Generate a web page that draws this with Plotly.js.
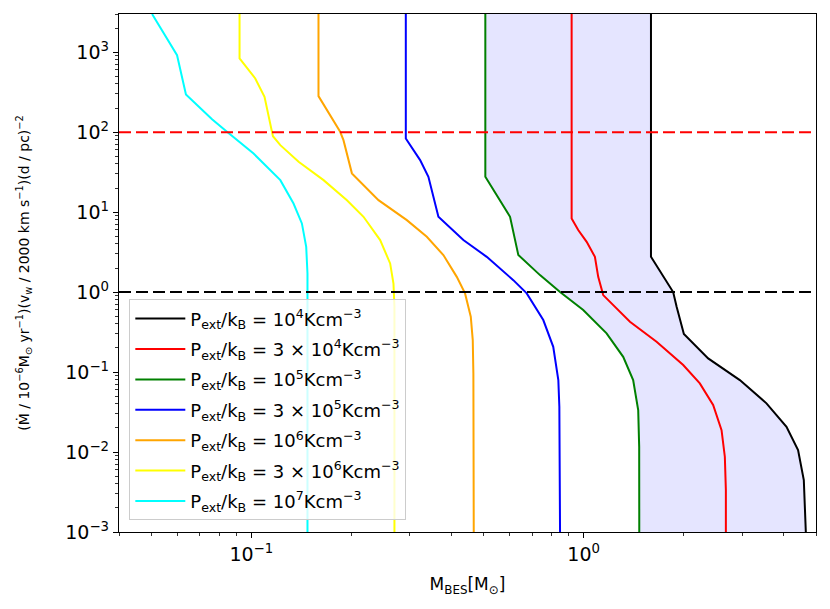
<!DOCTYPE html>
<html>
<head>
<meta charset="utf-8">
<script src="https://cdn.plot.ly/plotly-3.0.1.min.js"></script>
<style>body{margin:0;padding:0;background:#fff;}#chart{width:830px;height:609px;}</style>
</head>
<body>
<div id="chart"></div>
<script>
// ---- Data ----
const seriesNames = [
  "P<sub>ext</sub>/k<sub>B</sub> = 10<sup>4</sup>Kcm<sup>−3</sup>",
  "P<sub>ext</sub>/k<sub>B</sub> = 3 × 10<sup>4</sup>Kcm<sup>−3</sup>",
  "P<sub>ext</sub>/k<sub>B</sub> = 10<sup>5</sup>Kcm<sup>−3</sup>",
  "P<sub>ext</sub>/k<sub>B</sub> = 3 × 10<sup>5</sup>Kcm<sup>−3</sup>",
  "P<sub>ext</sub>/k<sub>B</sub> = 10<sup>6</sup>Kcm<sup>−3</sup>",
  "P<sub>ext</sub>/k<sub>B</sub> = 3 × 10<sup>6</sup>Kcm<sup>−3</sup>",
  "P<sub>ext</sub>/k<sub>B</sub> = 10<sup>7</sup>Kcm<sup>−3</sup>"
];
const seriesColors = ["#000000", "#ff0000", "#008000", "#0000ff", "#ffa500", "#ffff00", "#00ffff"];

const blackX  = [1.594, 1.594, 1.859, 1.904, 2.002, 2.369, 2.950, 3.548, 4.076, 4.416, 4.595, 4.658, 4.66];
const blackY  = [3000, 2.76, 1.0, 0.655, 0.2985, 0.148, 0.0794, 0.0406, 0.0207, 0.0106, 0.00447, 0.00155, 0.001];
const redX    = [0.92, 0.92, 0.963, 1.021, 1.081, 1.106, 1.145, 1.378, 1.657, 1.993, 2.236, 2.452, 2.599, 2.659, 2.678, 2.678];
const redY    = [3000, 8.34, 5.96, 4.25, 2.76, 1.55, 0.917, 0.425, 0.239, 0.1224, 0.0722, 0.0387, 0.0188, 0.00873, 0.00335, 0.001];
const greenX  = [0.506, 0.506, 0.6005, 0.636, 0.739, 0.849, 0.997, 1.172, 1.315, 1.409, 1.459, 1.469, 1.47];
const greenY  = [3000, 27.6, 8.74, 2.90, 1.63, 1.0, 0.596, 0.305, 0.155, 0.0794, 0.0335, 0.0116, 0.001];
const blueX   = [0.2917, 0.2917, 0.3221, 0.3411, 0.3656, 0.4346, 0.511, 0.6143, 0.6741, 0.756, 0.810, 0.839, 0.845, 0.849];
const blueY   = [3000, 83.4, 44.7, 27.6, 8.74, 4.47, 2.76, 1.41, 0.963, 0.447, 0.207, 0.0794, 0.0368, 0.001];
const orangeX = [0.1593, 0.1593, 0.1851, 0.1894, 0.2008, 0.2414, 0.2938, 0.3374, 0.3784, 0.4152, 0.4397, 0.4575, 0.4638, 0.4658, 0.467];
const orangeY = [3000, 282, 101, 79.4, 30.5, 14.1, 7.94, 4.91, 2.90, 1.55, 0.963, 0.491, 0.251, 0.0963, 0.001];
const yellowX = [0.0922, 0.0922, 0.1028, 0.1096, 0.1154, 0.1162, 0.1223, 0.1388, 0.165, 0.194, 0.2176, 0.2442, 0.2617, 0.2678, 0.2696, 0.2696];
const yellowY = [3000, 834, 469, 276, 101, 89, 68.8, 42.5, 25.1, 14.1, 8.74, 4.47, 2.28, 1.28, 0.655, 0.001];
const cyanX   = [0.0503, 0.0598, 0.0636, 0.0762, 0.0845, 0.1016, 0.1223, 0.134, 0.142, 0.1463, 0.1476, 0.1476];
const cyanY   = [3000, 917, 296, 145, 101, 54, 25.1, 12.8, 7.22, 3.68, 1.71, 0.001];

const refLevels = [100, 1];
const refColors = ["#ff0000", "#000000"];

const xLimits = [0.04, 5.0];
const yLimits = [0.001, 3000];

const xTickVals = [0.1, 1];
const xTickText = ["10<sup>−1</sup>", "10<sup>0</sup>"];
const yTickVals = [0.001, 0.01, 0.1, 1, 10, 100, 1000];
const yTickText = ["10<sup>−3</sup>", "10<sup>−2</sup>", "10<sup>−1</sup>", "10<sup>0</sup>", "10<sup>1</sup>", "10<sup>2</sup>", "10<sup>3</sup>"];

// ---- Build traces ----
const curvesX = [blackX, redX, greenX, blueX, orangeX, yellowX, cyanX];
const curvesY = [blackY, redY, greenY, blueY, orangeY, yellowY, cyanY];

function minorTicks(lo, hi) {
  const out = [];
  for (let e = Math.floor(Math.log10(lo)); e <= Math.ceil(Math.log10(hi)); e++) {
    for (let m = 2; m <= 9; m++) {
      const v = m * Math.pow(10, e);
      if (v >= lo && v <= hi) out.push(v);
    }
  }
  return out;
}

const traces = [];
// shaded band between the 1e5 (green) and 1e4 (black) curves
traces.push({
  x: greenX.concat(blackX.slice().reverse()),
  y: greenY.concat(blackY.slice().reverse()),
  type: "scatter", mode: "lines", fill: "toself",
  fillcolor: "rgba(0,0,255,0.1)", line: {width: 0},
  showlegend: false, hoverinfo: "skip"
});
for (let i = 0; i < curvesX.length; i++) {
  traces.push({
    x: curvesX[i], y: curvesY[i], type: "scatter", mode: "lines",
    name: seriesNames[i], legendgroup: "g" + i,
    line: {color: seriesColors[i], width: 2}
  });
}
for (let i = 0; i < refLevels.length; i++) {
  traces.push({
    x: xLimits, y: [refLevels[i], refLevels[i]], type: "scatter", mode: "lines",
    line: {color: refColors[i], width: 2, dash: "12px,5px"},
    showlegend: false, hoverinfo: "skip"
  });
}

const font = {family: "DejaVu Sans, sans-serif", color: "#000"};

const layout = {
  width: 830, height: 609,
  margin: {l: 119, r: 14, t: 14, b: 77},
  paper_bgcolor: "#fff", plot_bgcolor: "#fff",
  font: Object.assign({size: 16}, font),
  showlegend: true,
  legend: {
    x: 0.0148, y: 0.449, xanchor: "left", yanchor: "top",
    bgcolor: "rgba(255,255,255,0.8)", bordercolor: "#cccccc", borderwidth: 1,
    font: Object.assign({size: 18}, font), tracegroupgap: 4, itemwidth: 50
  },
  xaxis: {
    type: "log", range: [Math.log10(xLimits[0]), Math.log10(xLimits[1])],
    showgrid: false, zeroline: false,
    showline: true, mirror: true, linecolor: "#000", linewidth: 1.2,
    ticks: "outside", ticklen: 5, tickwidth: 1, tickcolor: "#000",
    tickmode: "array", tickvals: xTickVals, ticktext: xTickText,
    tickfont: Object.assign({size: 19}, font),
    minor: {tickmode: "array", tickvals: minorTicks(xLimits[0], xLimits[1]), ticks: "outside", ticklen: 3, tickwidth: 0.8, tickcolor: "#000", showgrid: false},
    title: {text: "M<sub>BES</sub>[M<sub>⊙</sub>]", font: Object.assign({size: 17}, font), standoff: 14}
  },
  yaxis: {
    type: "log", range: [Math.log10(yLimits[0]), Math.log10(yLimits[1])],
    showgrid: false, zeroline: false,
    showline: true, mirror: true, linecolor: "#000", linewidth: 1.2,
    ticks: "outside", ticklen: 5, tickwidth: 1, tickcolor: "#000",
    tickmode: "array", tickvals: yTickVals, ticktext: yTickText,
    tickfont: Object.assign({size: 19}, font),
    minor: {tickmode: "array", tickvals: minorTicks(yLimits[0], yLimits[1]), ticks: "outside", ticklen: 3, tickwidth: 0.8, tickcolor: "#000", showgrid: false},
    title: {text: "(Ṁ / 10<sup>−6</sup>M<sub>⊙</sub> yr<sup>−1</sup>)(v<sub>w</sub> / 2000 km s<sup>−1</sup>)(d / pc)<sup>−2</sup>", font: Object.assign({size: 14}, font), standoff: 32}
  }
};

Plotly.newPlot("chart", traces, layout, {displayModeBar: false, staticPlot: true});
</script>
</body>
</html>
